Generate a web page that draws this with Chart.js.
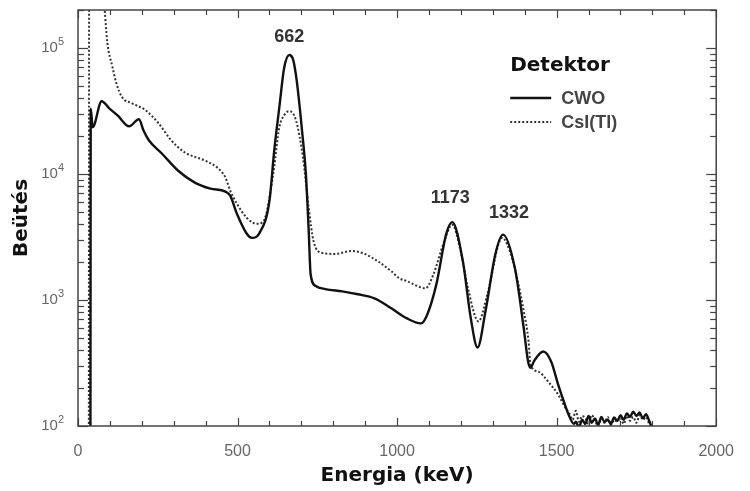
<!DOCTYPE html>
<html><head><meta charset="utf-8">
<script src="https://cdn.jsdelivr.net/npm/chart.js@4.4.1/dist/chart.umd.min.js"></script>
<style>html,body{margin:0;padding:0;background:#fff;}canvas{display:block;}</style>
</head><body>
<canvas id="c" width="750" height="491"></canvas>
<script>
// ---- data ----
const cwoEnergy = [39,40,46,74,98,125,160,191,205,222,262,314,366,415,462,477,498,529,545,569,600,615,631,646,662,674,683,689,702,714,723,729,745,775,828,877,929,982,1031,1074,1092,1123,1154,1173,1206,1231,1252,1277,1308,1332,1369,1397,1410,1418,1430,1458,1483,1505,1523,1538,1554,
  1560,1570,1580,1590,1600,1610,1620,1630,1640,1650,1660,1670,1680,1690,1700,1710,1720,1730,1740,1750,1760,1770,1780,1790,1800];
const cwoCounts = [90,33000,23500,37800,33200,29000,23900,27200,22200,18500,14600,10600,8540,7650,7240,6720,4830,3350,3110,3410,6130,15400,33900,69300,88000,81000,61000,46300,22200,10100,3530,1600,1290,1220,1170,1110,1030,859,714,652,741,1330,3350,4150,2040,714,420,813,2320,3300,1790,594,330,290,330,390,324,212,155,122,104,
  108,98,112,104,120,106,115,102,118,108,112,104,117,110,122,112,126,118,130,120,128,115,124,110,95];
const csiEnergy = [34,35,80,92,108,120,138,169,212,252,292,335,397,437,462,477,498,529,560,582,612,631,646,662,683,705,723,738,766,806,858,898,938,982,1006,1031,1089,1114,1145,1173,1197,1222,1255,1283,1329,1360,1397,1412,1418,1443,1474,1505,1529,
  1540,1550,1560,1570,1580,1590,1600,1610,1620,1630,1640,1650,1660,1670,1680,1690,1700,1710,1720,1730,1740,1750,1760,1770,1780,1790,1800];
const csiCounts = [90,500000,250000,109900,70600,52600,40700,36400,32000,25300,18500,14800,12800,11200,9360,7380,5800,4490,4020,4250,10100,23500,29200,31500,26700,13500,5390,2940,2360,2320,2450,2320,2040,1690,1490,1410,1240,1600,2790,3950,2590,1240,676,1110,3110,2150,813,468,307,270,224,177,137,
  125,112,132,108,120,115,104,122,110,100,114,106,118,102,112,108,116,104,120,110,118,106,122,112,118,104,96];
const seriesNames = ['CWO', 'CsI(Tl)'];
const legendTitle = 'Detektor';
const xTickValues = [0, 500, 1000, 1500, 2000];
const xMinorStep = 100;
const yTickExponents = [2, 3, 4, 5];
const peakEnergies = [662, 1173, 1332];
const peakLabels = ['662', '1173', '1332'];
const xTitle = 'Energia (keV)';
const yTitle = 'Beütés';

// ---- styling ----
const toPts = (xs, ys) => xs.map((e, i) => ({x: e, y: ys[i]}));
const peakLabelOffsets = [[0, -18], [-2, -24], [6, -22]];

const framePlugin = {
  id: 'frame',
  beforeDraw(chart) {
    const c = chart.ctx;
    c.save(); c.fillStyle = '#fff'; c.fillRect(0, 0, chart.width, chart.height); c.restore();
  },
  afterDraw(chart) {
    const c = chart.ctx, a = chart.chartArea, xs = chart.scales.x, ys = chart.scales.y;
    c.save();
    c.strokeStyle = '#444'; c.lineWidth = 1.5;
    c.strokeRect(a.left, a.top, a.right - a.left, a.bottom - a.top);
    c.lineWidth = 1.2;
    const seg = (x1, y1, x2, y2) => { c.beginPath(); c.moveTo(x1, y1); c.lineTo(x2, y2); c.stroke(); };
    for (let v = xs.min; v <= xs.max; v += xMinorStep) {
      const px = Math.round(xs.getPixelForValue(v)) + 0.5;
      const L = xTickValues.includes(v) ? 8 : 5;
      seg(px, a.bottom, px, a.bottom - L);
      seg(px, a.top, px, a.top + L);
    }
    for (const e of yTickExponents) {
      for (let m = 1; m <= 9; m++) {
        const v = m * Math.pow(10, e);
        if (v < ys.min || v > ys.max) continue;
        const py = Math.round(ys.getPixelForValue(v)) + 0.5;
        const L = m === 1 ? 10 : 6;
        seg(a.left, py, a.left + L, py);
        seg(a.right, py, a.right - L, py);
      }
    }
    // y tick labels with superscript exponents
    c.fillStyle = '#666';
    c.textBaseline = 'middle';
    for (const e of yTickExponents) {
      const py = ys.getPixelForValue(Math.pow(10, e));
      c.font = '11px "Liberation Sans"';
      const ew = c.measureText(String(e)).width;
      const right = a.left - 14;
      c.textAlign = 'right';
      c.fillText(String(e), right, py - 6);
      c.font = '15px "Liberation Sans"';
      c.fillText('10', right - ew, py);
    }
    // peak labels
    c.fillStyle = '#333';
    c.font = 'bold 18px "Liberation Sans"';
    c.textAlign = 'center';
    c.textBaseline = 'middle';
    peakEnergies.forEach((E, i) => {
      const idx = cwoEnergy.indexOf(E);
      const py = ys.getPixelForValue(cwoCounts[idx]);
      c.fillText(peakLabels[i], xs.getPixelForValue(E) + peakLabelOffsets[i][0], py + peakLabelOffsets[i][1]);
    });
    // legend
    const lx = a.right - 206, ly = a.top + 56;
    c.textAlign = 'left';
    c.fillStyle = '#111';
    c.font = 'bold 20px "DejaVu Sans"';
    c.fillText(legendTitle, lx, ly);
    chart.data.datasets.forEach((ds, i) => {
      const yy = ly + 32 + i * 24;
      c.strokeStyle = ds.borderColor; c.lineWidth = ds.borderWidth;
      c.setLineDash(ds.borderDash || []);
      seg(lx, yy, lx + 41, yy);
      c.setLineDash([]);
      c.fillStyle = '#444';
      c.font = 'bold 18px "Liberation Sans"';
      c.fillText(ds.label, lx + 51, yy + 1);
    });
    c.restore();
  }
};

new Chart(document.getElementById('c'), {
  type: 'line',
  data: {
    datasets: [
      {label: seriesNames[0], data: toPts(cwoEnergy, cwoCounts), borderColor: '#111', borderWidth: 2.4, pointRadius: 0, cubicInterpolationMode: 'monotone', borderJoinStyle: 'round'},
      {label: seriesNames[1], data: toPts(csiEnergy, csiCounts), borderColor: '#333', borderWidth: 2, borderDash: [2, 2], pointRadius: 0, cubicInterpolationMode: 'monotone'}
    ]
  },
  options: {
    responsive: false, animation: false, devicePixelRatio: 1,
    layout: {padding: {top: 10, right: 22, left: 0, bottom: 0}},
    plugins: {legend: {display: false}, tooltip: {enabled: false}},
    scales: {
      x: {
        type: 'linear', min: 0, max: 2000,
        afterBuildTicks(s) { s.ticks = xTickValues.map(v => ({value: v})); },
        ticks: {font: {family: 'Liberation Sans', size: 16}, color: '#666', padding: 16, maxRotation: 0, autoSkip: false, callback: v => String(v)},
        grid: {display: false, drawTicks: false}, border: {display: false},
        title: {display: true, text: xTitle, font: {family: 'DejaVu Sans', size: 20, weight: 'bold'}, color: '#111', padding: {top: 0, bottom: 3}},
        afterFit(s) { s.height = 65; }
      },
      y: {
        type: 'logarithmic', min: 100, max: 200000,
        ticks: {display: false},
        grid: {display: false, drawTicks: false}, border: {display: false},
        title: {display: true, text: yTitle, font: {family: 'DejaVu Sans', size: 20, weight: 'bold'}, color: '#111', padding: {top: 10, bottom: 0}},
        afterFit(s) { s.width = 78; }
      }
    }
  },
  plugins: [framePlugin]
});
</script>
</body></html>
